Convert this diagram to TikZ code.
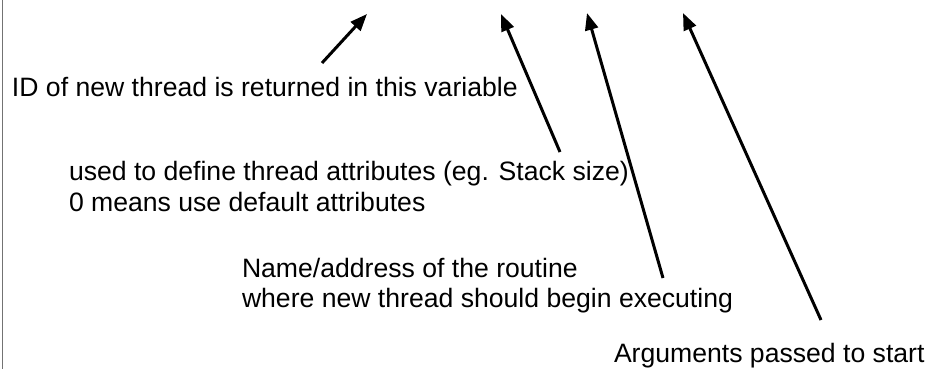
\documentclass[tikz,border=0pt]{standalone}
\usepackage{fontspec}
\setmainfont{Liberation Sans}
\usetikzlibrary{arrows.meta}
\begin{document}
\begin{tikzpicture}[x=1pt,y=-1pt,
  lbl/.style={anchor=base west,inner sep=0pt,outer sep=0pt,font=\fontsize{26.6}{31}\selectfont},
  arr/.style={line width=3pt,-{Triangle[length=17pt,width=13pt]}},
  frame/.style={line width=1.2pt,draw=black!55}]
\useasboundingbox (0,0) rectangle (930,369);
\fill[white] (0,0) rectangle (930,369);
\draw[frame] (2.5,0) -- (2.5,369);
% labels
\node[lbl] (t1) at (12,97) {ID of new thread is returned in this variable};
\node[lbl] (t2a) at (69,180) {used to define thread attributes (eg. Stack size)};
\node[lbl] (t2b) at (69,211) {0 means use default attributes};
\node[lbl] (t3a) at (242,277) {Name/address of the routine};
\node[lbl] (t3b) at (242,307) {where new thread should begin executing};
\node[lbl] (t4) at (614,362) {Arguments passed to start};
% arrow ends
\coordinate (a1s) at (322,63);  \coordinate (a1e) at (367,14);
\coordinate (a2s) at (560,152); \coordinate (a2e) at (501,14);
\coordinate (a3s) at (663,278); \coordinate (a3e) at (587,13);
\coordinate (a4s) at (821,320); \coordinate (a4e) at (683,13);
\draw[arr] (a1s) -- (a1e);
\draw[arr] (a2s) -- (a2e);
\draw[arr] (a3s) -- (a3e);
\draw[arr] (a4s) -- (a4e);
\end{tikzpicture}
\end{document}
